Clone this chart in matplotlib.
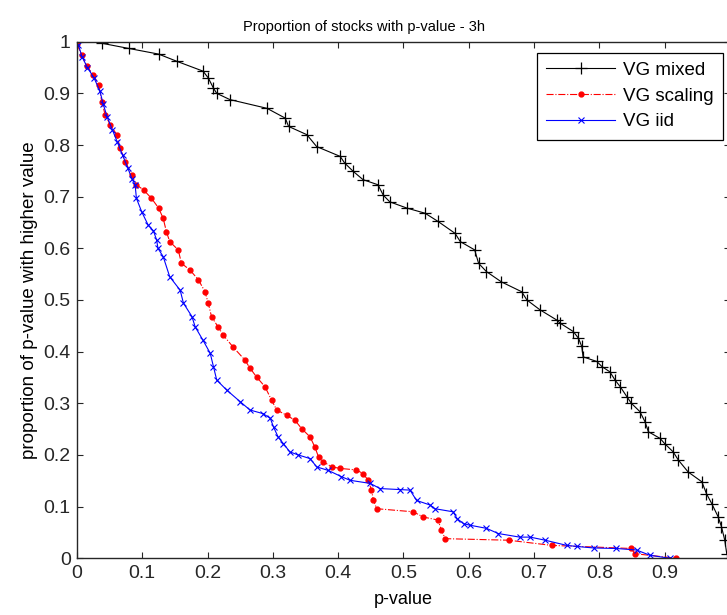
import numpy as np
import matplotlib.pyplot as plt

plt.rcParams['font.family'] = ['Liberation Sans', 'DejaVu Sans']

# VG mixed (p-value, proporción con p-value mayor)
mixed_x = [0.038, 0.079, 0.125, 0.153, 0.193, 0.201, 0.209, 0.214, 0.234, 0.291,
           0.319, 0.324, 0.352, 0.367, 0.403, 0.410, 0.423, 0.438, 0.461, 0.469,
           0.479, 0.505, 0.533, 0.553, 0.579, 0.587, 0.609, 0.615, 0.627, 0.650,
           0.681, 0.689, 0.709, 0.735, 0.740, 0.760, 0.768, 0.773, 0.775, 0.796,
           0.804, 0.816, 0.824, 0.832, 0.842, 0.849, 0.862, 0.870, 0.875, 0.893,
           0.900, 0.913, 0.921, 0.936, 0.957, 0.964, 0.972, 0.982, 0.987, 0.992,
           0.995]
mixed_y = [0.997, 0.987, 0.976, 0.962, 0.943, 0.930, 0.910, 0.900, 0.888, 0.871,
           0.852, 0.836, 0.820, 0.797, 0.778, 0.765, 0.749, 0.733, 0.723, 0.703,
           0.690, 0.678, 0.668, 0.652, 0.629, 0.613, 0.597, 0.571, 0.555, 0.535,
           0.516, 0.500, 0.481, 0.461, 0.455, 0.439, 0.426, 0.410, 0.390, 0.381,
           0.371, 0.361, 0.345, 0.332, 0.313, 0.300, 0.284, 0.264, 0.245, 0.232,
           0.222, 0.206, 0.190, 0.167, 0.148, 0.125, 0.106, 0.080, 0.061, 0.035,
           0.009]

# VG scaling
scaling_x = [0.000, 0.007, 0.015, 0.025, 0.033, 0.038, 0.043, 0.051, 0.061, 0.066,
             0.074, 0.084, 0.091, 0.102, 0.114, 0.125, 0.132, 0.137, 0.142, 0.155,
             0.160, 0.173, 0.186, 0.196, 0.201, 0.206, 0.216, 0.224, 0.239, 0.257,
             0.265, 0.275, 0.288, 0.298, 0.306, 0.321, 0.334, 0.344, 0.357, 0.364,
             0.370, 0.377, 0.390, 0.403, 0.428, 0.438, 0.446, 0.451, 0.454, 0.459,
             0.515, 0.530, 0.553, 0.558, 0.564, 0.661, 0.727, 0.849, 0.854, 0.918]
scaling_y = [0.995, 0.975, 0.952, 0.936, 0.917, 0.884, 0.859, 0.839, 0.820, 0.794,
             0.768, 0.742, 0.723, 0.713, 0.697, 0.678, 0.658, 0.632, 0.613, 0.597,
             0.571, 0.558, 0.539, 0.516, 0.494, 0.468, 0.448, 0.432, 0.409, 0.384,
             0.368, 0.351, 0.332, 0.306, 0.287, 0.277, 0.267, 0.251, 0.235, 0.216,
             0.196, 0.187, 0.177, 0.174, 0.171, 0.164, 0.151, 0.132, 0.112, 0.096,
             0.090, 0.080, 0.074, 0.054, 0.038, 0.035, 0.025, 0.019, 0.009, 0.000]

# VG iid
iid_x = [0.002, 0.008, 0.016, 0.026, 0.035, 0.040, 0.046, 0.054, 0.062, 0.070,
         0.078, 0.084, 0.089, 0.091, 0.099, 0.109, 0.117, 0.122, 0.124, 0.132,
         0.142, 0.158, 0.163, 0.176, 0.181, 0.193, 0.204, 0.209, 0.214, 0.229,
         0.250, 0.265, 0.285, 0.296, 0.301, 0.308, 0.316, 0.326, 0.339, 0.357,
         0.367, 0.385, 0.405, 0.418, 0.449, 0.464, 0.495, 0.510, 0.520, 0.541,
         0.548, 0.576, 0.582, 0.592, 0.602, 0.627, 0.645, 0.678, 0.694, 0.717,
         0.750, 0.765, 0.791, 0.826, 0.857, 0.877, 0.908]
iid_y = [0.994, 0.970, 0.950, 0.930, 0.905, 0.880, 0.855, 0.830, 0.805, 0.780,
         0.755, 0.735, 0.723, 0.697, 0.671, 0.645, 0.634, 0.616, 0.600, 0.584,
         0.545, 0.519, 0.494, 0.468, 0.448, 0.422, 0.397, 0.371, 0.345, 0.326,
         0.303, 0.287, 0.280, 0.271, 0.254, 0.235, 0.222, 0.206, 0.200, 0.193,
         0.177, 0.170, 0.158, 0.151, 0.145, 0.135, 0.133, 0.132, 0.112, 0.103,
         0.096, 0.090, 0.077, 0.067, 0.064, 0.058, 0.048, 0.041, 0.041, 0.035,
         0.025, 0.023, 0.020, 0.019, 0.016, 0.006, 0.000]

fig = plt.figure(figsize=(7.27, 6.15), dpi=100)
ax = fig.add_axes([0.1059, 0.0922, 0.8982, 0.840])

ax.plot(mixed_x, mixed_y, '-+', color='black', lw=0.8, ms=9, mew=0.9, label='VG mixed')
ax.plot(scaling_x, scaling_y, '-.', color='red', marker='.', lw=0.8, ms=7, label='VG scaling')
ax.plot(iid_x, iid_y, '-x', color='blue', lw=0.8, ms=5, mew=0.8, label='VG iid')

ax.set_xlim(0, 1)
ax.set_ylim(0, 1)
ax.set_xticks(np.arange(0, 0.95, 0.1))
ax.set_xticklabels(['0', '0.1', '0.2', '0.3', '0.4', '0.5', '0.6', '0.7', '0.8', '0.9'])
ax.set_yticks(np.arange(0, 1.05, 0.1))
ax.set_yticklabels(['0', '0.1', '0.2', '0.3', '0.4', '0.5', '0.6', '0.7', '0.8', '0.9', '1'])
ax.tick_params(direction='in', top=True, right=True, length=4, labelsize=14,
               colors='#262626', pad=4.5)
for s in ax.spines.values():
    s.set_linewidth(1.0)
    s.set_color('#262626')

ax.set_title('Proportion of stocks with p-value - 3h', fontsize=10.5, pad=8, x=0.44)
ax.set_xlabel('p-value', fontsize=13, labelpad=7)
ax.set_ylabel('proportion of p-value with higher value', fontsize=13.5, labelpad=4)

leg = ax.legend(loc='upper right', bbox_to_anchor=(0.989, 0.979), borderaxespad=0,
                numpoints=1, handlelength=3.7, fontsize=13.5, fancybox=False,
                framealpha=1, edgecolor='black', borderpad=0.5, labelspacing=0.45,
                handletextpad=0.4)
leg.get_frame().set_linewidth(0.9)

plt.savefig('out.png', dpi=100)
